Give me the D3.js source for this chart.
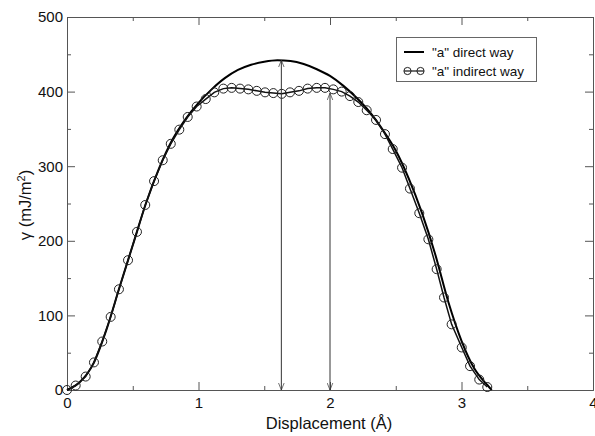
<!DOCTYPE html>
<html>
<head>
<meta charset="utf-8">
<script src="https://cdn.jsdelivr.net/npm/d3@7"></script>
<style>
  html, body { margin: 0; padding: 0; background: #fff; }
  svg { display: block; font-family: "Liberation Sans", Arial, sans-serif; }
</style>
</head>
<body>
<svg id="chart" width="595" height="436"></svg>
<script>
// "a" direct way: smooth energy profile
const directX = [0, 0.1, 0.2, 0.3, 0.4, 0.5, 0.6, 0.7, 0.8, 0.9, 1.0, 1.1, 1.2, 1.3, 1.4, 1.5, 1.6, 1.7,
                 1.8, 1.9, 2.0, 2.1, 2.2, 2.3, 2.4, 2.5, 2.6, 2.7, 2.8, 2.9, 3.0, 3.1, 3.2, 3.23];
const directY = [0, 11, 35, 81, 138, 194, 250, 297, 335, 363, 385, 403, 418, 429, 436, 440, 442, 441,
                 437, 430, 421, 408, 392, 373, 349, 321, 283, 237, 182, 118, 66, 28, 6, 0];

// "a" indirect way: sampled points
const indirectX = [0.000, 0.066, 0.142, 0.205, 0.268, 0.332, 0.395, 0.464, 0.532, 0.595,
                   0.662, 0.728, 0.789, 0.854, 0.918, 0.986, 1.055, 1.120, 1.189, 1.252,
                   1.316, 1.379, 1.443, 1.506, 1.569, 1.633, 1.696, 1.764, 1.830, 1.899,
                   1.962, 2.025, 2.089, 2.152, 2.215, 2.279, 2.350, 2.418, 2.477, 2.548,
                   2.608, 2.679, 2.748, 2.811, 2.867, 2.925, 3.002, 3.065, 3.135, 3.196];
const indirectY = [0, 6, 18, 37, 65, 98, 135, 174, 212, 248,
                   280, 308, 330, 349, 366, 380, 390, 399, 404, 405,
                   404, 403, 401, 399, 398, 397, 399, 401, 404, 405,
                   405, 403, 400, 394, 386, 375, 362, 343, 323, 298,
                   270, 237, 202, 162, 124, 88, 57, 32, 14, 4];

// double-headed arrows marking barrier heights
const arrowX = [1.63, 2.0];
const arrowTop = [442, 398];

const xTicks = [0, 1, 2, 3, 4];
const yTicks = [0, 100, 200, 300, 400, 500];
const legendLabels = ['"a" direct way', '"a" indirect way'];

const svg = d3.select("#chart");
const plotLeft = 67, plotRight = 593, plotTop = 17, plotBottom = 390;

const x = d3.scaleLinear().domain([0, 4]).range([plotLeft, plotRight]);
const y = d3.scaleLinear().domain([0, 500]).range([plotBottom, plotTop]);

const axisColor = "#555";

// arrow marker
const defs = svg.append("defs");
defs.append("marker")
  .attr("id", "arrowhead")
  .attr("viewBox", "0 0 10 10")
  .attr("refX", 10).attr("refY", 5)
  .attr("markerWidth", 7).attr("markerHeight", 7)
  .attr("orient", "auto-start-reverse")
  .attr("markerUnits", "userSpaceOnUse")
  .append("path")
  .attr("d", "M0,1 L10,5 L0,9")
  .attr("fill", "none")
  .attr("stroke", "#333")
  .attr("stroke-width", 1);

// axes with inward ticks on all four sides
const minorX = d3.range(0, 4.01, 0.5).filter(v => !xTicks.includes(v));
const minorY = d3.range(0, 501, 50).filter(v => !yTicks.includes(v));

function styleAxis(g) {
  g.select(".domain").attr("stroke", axisColor);
  g.selectAll(".tick line").attr("stroke", axisColor);
  g.selectAll("text").attr("fill", "#111").attr("font-size", 15);
}

svg.append("g").attr("transform", `translate(0,${plotBottom})`)
  .call(d3.axisBottom(x).tickValues(xTicks).tickFormat(d3.format("d")).tickSizeInner(-8).tickSizeOuter(0).tickPadding(7))
  .call(styleAxis);
svg.append("g").attr("transform", `translate(0,${plotBottom})`)
  .call(d3.axisBottom(x).tickValues(minorX).tickFormat("").tickSizeInner(-4).tickSizeOuter(0))
  .call(styleAxis);
svg.append("g").attr("transform", `translate(0,${plotTop})`)
  .call(d3.axisTop(x).tickValues(xTicks).tickFormat("").tickSizeInner(-8).tickSizeOuter(0))
  .call(styleAxis);
svg.append("g").attr("transform", `translate(0,${plotTop})`)
  .call(d3.axisTop(x).tickValues(minorX).tickFormat("").tickSizeInner(-4).tickSizeOuter(0))
  .call(styleAxis);

svg.append("g").attr("transform", `translate(${plotLeft},0)`)
  .call(d3.axisLeft(y).tickValues(yTicks).tickFormat(d3.format("d")).tickSizeInner(-8).tickSizeOuter(0).tickPadding(4))
  .call(styleAxis);
svg.append("g").attr("transform", `translate(${plotLeft},0)`)
  .call(d3.axisLeft(y).tickValues(minorY).tickFormat("").tickSizeInner(-4).tickSizeOuter(0))
  .call(styleAxis);
svg.append("g").attr("transform", `translate(${plotRight},0)`)
  .call(d3.axisRight(y).tickValues(yTicks).tickFormat("").tickSizeInner(-8).tickSizeOuter(0))
  .call(styleAxis);
svg.append("g").attr("transform", `translate(${plotRight},0)`)
  .call(d3.axisRight(y).tickValues(minorY).tickFormat("").tickSizeInner(-4).tickSizeOuter(0))
  .call(styleAxis);

// direct way curve
const directData = directX.map((d, i) => [d, directY[i]]);
svg.append("path")
  .datum(directData)
  .attr("fill", "none")
  .attr("stroke", "#000")
  .attr("stroke-width", 2)
  .attr("d", d3.line().x(d => x(d[0])).y(d => y(d[1])).curve(d3.curveMonotoneX));

// indirect way polyline with open circles
const indirectData = indirectX.map((d, i) => [d, indirectY[i]]);
svg.append("path")
  .datum(indirectData)
  .attr("fill", "none")
  .attr("stroke", "#111")
  .attr("stroke-width", 1.5)
  .attr("d", d3.line().x(d => x(d[0])).y(d => y(d[1])));
svg.append("g").selectAll("circle")
  .data(indirectData).join("circle")
  .attr("cx", d => x(d[0])).attr("cy", d => y(d[1]))
  .attr("r", 4.5)
  .attr("fill", "none")
  .attr("stroke", "#222")
  .attr("stroke-width", 1);

// arrows
svg.append("g").selectAll("line")
  .data(arrowX.map((d, i) => [d, arrowTop[i]])).join("line")
  .attr("x1", d => x(d[0])).attr("x2", d => x(d[0]))
  .attr("y1", y(0)).attr("y2", d => y(d[1]))
  .attr("stroke", "#333")
  .attr("stroke-width", 1)
  .attr("marker-start", "url(#arrowhead)")
  .attr("marker-end", "url(#arrowhead)");

// legend
const lg = svg.append("g");
lg.append("rect")
  .attr("x", 396.5).attr("y", 37.5).attr("width", 140).attr("height", 44)
  .attr("fill", "#fff").attr("stroke", "#666").attr("stroke-width", 1);
const rowY = [52, 71];
lg.append("line").attr("x1", 404).attr("x2", 424).attr("y1", rowY[0]).attr("y2", rowY[0])
  .attr("stroke", "#000").attr("stroke-width", 2);
lg.append("line").attr("x1", 404).attr("x2", 424).attr("y1", rowY[1]).attr("y2", rowY[1])
  .attr("stroke", "#111").attr("stroke-width", 1.2);
[407.5, 420.5].forEach(cx => lg.append("circle").attr("cx", cx).attr("cy", rowY[1]).attr("r", 3.6)
  .attr("fill", "none").attr("stroke", "#222").attr("stroke-width", 1));
lg.selectAll("text.lab").data(legendLabels).join("text")
  .attr("class", "lab")
  .attr("x", 432).attr("y", (d, i) => rowY[i] + 5)
  .attr("font-size", 13.5).attr("fill", "#111")
  .text(d => d);

// axis titles
svg.append("text")
  .attr("x", (plotLeft + plotRight) / 2 - 1).attr("y", 429)
  .attr("text-anchor", "middle").attr("font-size", 16.5).attr("fill", "#111")
  .text("Displacement (Å)");
const yt = svg.append("text")
  .attr("transform", `translate(31,205) rotate(-90)`)
  .attr("text-anchor", "middle").attr("font-size", 16.5).attr("fill", "#111");
yt.append("tspan").text("γ  (mJ/m");
yt.append("tspan").attr("baseline-shift", "super").attr("font-size", 11).text("2");
yt.append("tspan").text(")");
</script>
</body>
</html>
